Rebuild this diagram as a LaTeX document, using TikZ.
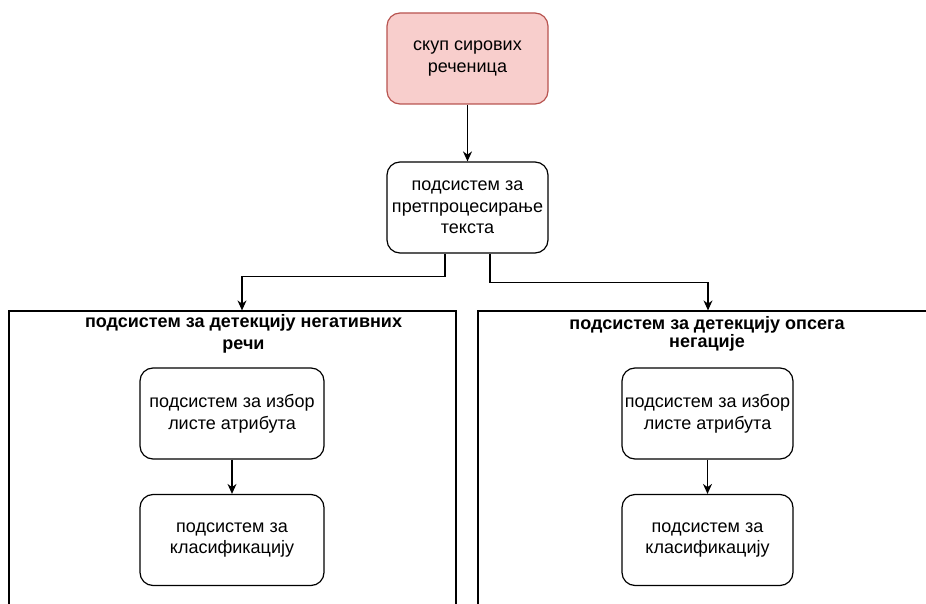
\documentclass[tikz,border=0pt]{standalone}
\usepackage{fontspec}
\setmainfont{Liberation Sans}
\usetikzlibrary{arrows.meta, positioning}
\definecolor{srcfill}{HTML}{F8CECC}
\definecolor{srcdraw}{HTML}{B85450}

\begin{document}
\begin{tikzpicture}[
        x=1pt, y=-1pt,
        block/.style={draw, rounded corners=13pt, line width=1.2pt, align=center, minimum height=91pt, inner sep=0pt, font=\fontsize{18}{21.6}\selectfont},
        source/.style={block, fill=srcfill, draw=srcdraw},
        group/.style={draw, line width=1.2pt, minimum height=329pt, inner sep=0pt},
        grouptitle/.style={align=center, inner sep=0pt, font=\bfseries\fontsize{18}{22}\selectfont},
        link/.style={line width=1.2pt, -{Stealth[length=10pt,width=9pt]}}
    ]
        \useasboundingbox (0,0) rectangle (926,604);
        \clip (0,0) rectangle (926,604);
        
        % Input and preprocessing
        \node[source, minimum width=161pt] (raw) at (467.5,58.5) {скуп сирових\\реченица};
        \node[block, minimum width=161pt] (prep) at (467.5,207.5) {подсистем за\\претпроцесирање\\текста};
        
        % Two subsystem groups
        \node[group, minimum width=447pt] (negbox) at (232.5,475.5) {};
        \node[group, minimum width=482pt] (scopebox) at (719,475.5) {};
        \node[grouptitle] (negtitle) at (243.5,334) {подсистем за детекцију негативних\\речи};
        \node[grouptitle, font=\bfseries\fontsize{18}{18}\selectfont] (scopetitle) at (707,334) {подсистем за детекцију опсега\\негације};
        
        % Inner blocks
        \node[block, minimum width=184pt] (negfeat) at (232,413.5) {подсистем за избор\\листе атрибута};
        \node[block, minimum width=184pt] (negcls) at (232,540) {подсистем за\\класификацију};
        \node[block, minimum width=171pt] (scopefeat) at (707.5,413.5) {подсистем за избор\\листе атрибута};
        \node[block, minimum width=171pt] (scopecls) at (707.5,540) {подсистем за\\класификацију};
        
        % Connectors
        \draw[link] (raw) -- (prep);
        \draw[link] ([xshift=-22.5pt]prep.south) -- ++(0,23) -| ([xshift=9.5pt]negbox.north);
        \draw[link] ([xshift=22.5pt]prep.south) -- ++(0,29) -| ([xshift=-11pt]scopebox.north);
        \draw[link] (negfeat) -- (negcls);
        \draw[link] (scopefeat) -- (scopecls);
    \end{tikzpicture}
\end{document}
